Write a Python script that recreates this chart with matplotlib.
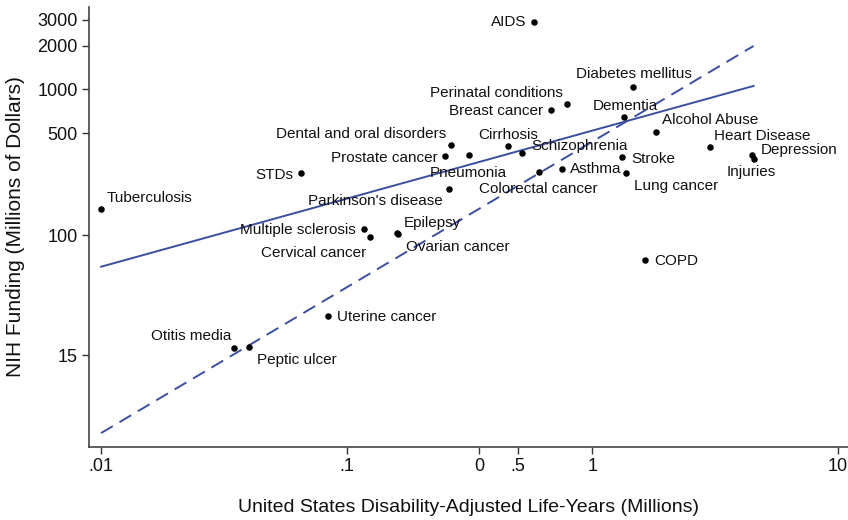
import numpy as np
import matplotlib
matplotlib.use("Agg")
import matplotlib.pyplot as plt

plt.rcParams['font.family'] = ['Liberation Sans', 'DejaVu Sans']

diseases = ["Tuberculosis", "STDs", "Otitis media", "Peptic ulcer", "Uterine cancer",
            "Multiple sclerosis", "Cervical cancer", "Epilepsy", "Ovarian cancer",
            "Parkinson's disease", "Prostate cancer", "Dental and oral disorders",
            "Pneumonia", "Cirrhosis", "Schizophrenia", "Colorectal cancer", "Asthma",
            "AIDS", "Breast cancer", "Perinatal conditions", "Diabetes mellitus",
            "Dementia", "Stroke", "Lung cancer", "Alcohol Abuse", "Heart Disease",
            "Depression", "Injuries", "COPD"]
dalys = [0.0100, 0.0649, 0.0349, 0.0399, 0.0842,
         0.1178, 0.1249, 0.160, 0.162,
         0.262, 0.2525, 0.2652,
         0.314, 0.453, 0.519, 0.605, 0.751,
         0.581, 0.682, 0.787, 1.463,
         1.351, 1.326, 1.377, 1.824, 3.03,
         4.475, 4.545, 1.64]
funding = [150, 268, 16.8, 17.0, 27.8,
           110.5, 97.4, 104, 101,
           208, 350, 417,
           356, 410, 367, 270, 282,
           2897, 721, 789, 1042,
           649, 345, 268, 512, 400,
           356, 334, 67]

# fitted regression (log10 funding = intercept + slope * log10 DALYs)
fit_slope = 0.467
fit_intercept = 2.7165

x_ticks = [0.01, 0.1, 0.346, 0.5, 1, 10]
x_tick_labels = [".01", ".1", "0", ".5", "1", "10"]
y_ticks = [15, 100, 500, 1000, 2000, 3000]
y_tick_labels = ["15", "100", "500", "1000", "2000", "3000"]

# label placement: (dx px, dy px, ha, va)  positive dy = up
label_pos = {
    "Tuberculosis": (6, 11, "left", "center"),
    "STDs": (-7, -2, "right", "center"),
    "Otitis media": (-3, 12, "right", "center"),
    "Peptic ulcer": (8, -13, "left", "center"),
    "Uterine cancer": (9, -1, "left", "center"),
    "Multiple sclerosis": (-8, -1, "right", "center"),
    "Cervical cancer": (-4, -16, "right", "center"),
    "Epilepsy": (7, 10, "left", "center"),
    "Ovarian cancer": (8, -13, "left", "center"),
    "Parkinson's disease": (-7, -12, "right", "center"),
    "Prostate cancer": (-8, -2, "right", "center"),
    "Dental and oral disorders": (-4, 11, "right", "center"),
    "Pneumonia": (0, -18, "center", "center"),
    "Cirrhosis": (0, 11, "center", "center"),
    "Schizophrenia": (9, 7, "left", "center"),
    "Colorectal cancer": (0, -17, "center", "center"),
    "Asthma": (8, 0, "left", "center"),
    "AIDS": (-8, 0, "right", "center"),
    "Breast cancer": (-8, -1, "right", "center"),
    "Perinatal conditions": (-4, 11, "right", "center"),
    "Diabetes mellitus": (1, 13, "center", "center"),
    "Dementia": (1, 11, "center", "center"),
    "Stroke": (9, -2, "left", "center"),
    "Lung cancer": (8, -13, "left", "center"),
    "Alcohol Abuse": (6, 12, "left", "center"),
    "Heart Disease": (4, 11, "left", "center"),
    "Depression": (9, 5, "left", "center"),
    "Injuries": (-2, -13, "center", "center"),
    "COPD": (9, -1, "left", "center"),
}

x = np.array(dalys)
y = np.array(funding)

fig = plt.figure(figsize=(8.48, 5.2), dpi=100)
ax = fig.add_axes([0.105, 0.1404, 0.895, 0.846])
ax.set_xscale("log")
ax.set_yscale("log")

line_color = "#3b4fa0"
xl = np.logspace(np.log10(x.min()), np.log10(x.max()), 100)
ax.plot(xl, 10 ** (fit_intercept + fit_slope * np.log10(xl)), color=line_color, lw=1.4)
# proportional funding line
ratio = y.sum() / x.sum()
ax.plot(xl, ratio * xl, color=line_color, lw=1.4, dashes=(7, 4))

ax.scatter(x, y, s=22, color="black", zorder=3, linewidths=0)

px2pt = 0.72
for name, xi, yi in zip(diseases, dalys, funding):
    dx, dy, ha, va = label_pos[name]
    ax.annotate(name, (xi, yi), xytext=(dx * px2pt, dy * px2pt), textcoords="offset points",
                ha=ha, va=va, fontsize=11, color="#111111")

ax.set_xlim(10 ** -2.049, 10 ** 1.042)
ax.set_ylim(10 ** 0.545, 10 ** 3.565)
ax.set_xticks(x_ticks)
ax.set_xticklabels(x_tick_labels)
ax.set_yticks(y_ticks)
ax.set_yticklabels(y_tick_labels)
ax.xaxis.set_minor_locator(matplotlib.ticker.NullLocator())
ax.yaxis.set_minor_locator(matplotlib.ticker.NullLocator())
ax.tick_params(axis="both", labelsize=13, length=5, width=1, color="#333333",
               labelcolor="#111111", pad=3)
for s in ["top", "right"]:
    ax.spines[s].set_visible(False)
for s in ["left", "bottom"]:
    ax.spines[s].set_color("#444444")
    ax.spines[s].set_linewidth(1.2)

ax.set_xlabel("United States Disability-Adjusted Life-Years (Millions)", fontsize=14,
              labelpad=17, color="#111111")
ax.set_ylabel("NIH Funding (Millions of Dollars)", fontsize=15, labelpad=9, color="#111111")

fig.savefig("out.png", dpi=100)
